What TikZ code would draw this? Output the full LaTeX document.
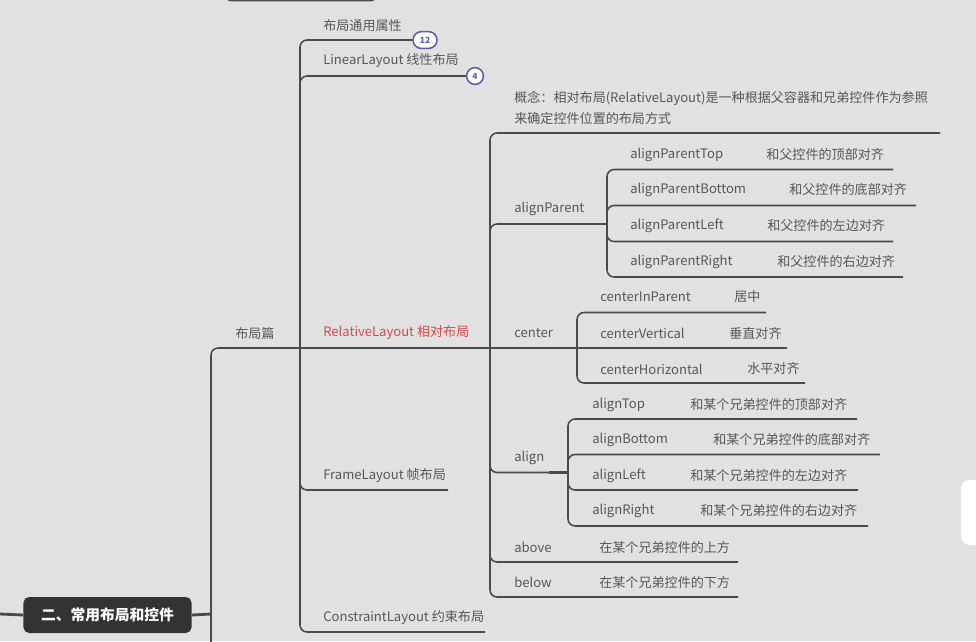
\documentclass[tikz,border=0pt]{standalone}
\usepackage{fontspec}
\setmainfont{Noto Sans CJK SC}
\usetikzlibrary{positioning}
\definecolor{bggray}{HTML}{E1E1E1}
\definecolor{linegray}{HTML}{4A4A4A}
\definecolor{txtgray}{HTML}{575757}
\definecolor{relred}{HTML}{D64A4A}
\definecolor{badgeblue}{HTML}{5B5DAE}
\definecolor{rootdark}{HTML}{333431}

\begin{document}
\begin{tikzpicture}[x=0.025cm, y=-0.025cm,
    topic/.style={anchor=west, inner sep=0pt, text=txtgray, font=\fontsize{9.3}{11}\selectfont},
    branch/.style={draw=linegray, line width=1.1pt, rounded corners=5pt},
    stub/.style={draw=linegray, line width=2pt},
    badge/.style={draw=badgeblue, fill=white, line width=1.1pt, text=badgeblue,
        font=\fontsize{6}{6}\selectfont\bfseries, inner sep=0pt,
        minimum height=0.42cm, rounded corners=0.21cm},
    rootbox/.style={fill=rootdark, text=white, rounded corners=4pt, inner sep=0pt,
        minimum width=4.2cm, minimum height=0.9cm, font=\fontsize{10.5}{12}\selectfont\bfseries}]
    \useasboundingbox[fill=bggray] (0,0) rectangle (976,641);

    % box cut off at the top
    \draw[linegray, line width=1.1pt, rounded corners=4pt] (225,-10) -- (225,0.6) -- (377,0.6) -- (377,-10);
    % tab at the right edge
    \fill[white, rounded corners=6pt] (961,480) rectangle (990,545);

    % root and trunk
    \node[rootbox] (root) at (107.5,615) {二、常用布局和控件};
    \coordinate (rootIn) at (0,614);
    \coordinate (jTrunk) at (211,614);
    \coordinate (trunkEnd) at (211,650);
    \coordinate (jL2) at (300,348);
    \draw[stub] (rootIn) -- (root.west);
    \draw[stub] (root.east) -- (jTrunk);
    \draw[branch] (trunkEnd) |- (jL2);
    \draw[stub] (282,348) -- (jL2);
    \node[topic] (lay) at (235,333) {布局篇};

    % second level
    \node[badge, minimum width=0.6cm] (b12) at (425,40) {12};
    \node[badge, minimum width=0.42cm] (b4) at (475,76) {4};
    \coordinate (jRel) at (490,348);
    \coordinate (frameE) at (448,490);
    \coordinate (consE) at (485,632);
    \draw[branch] (jL2) |- (b12.west);
    \draw[branch] (jL2) |- (b4.west);
    \draw[branch] (jL2) -- (jRel);
    \draw[stub] (471,348) -- (jRel);
    \draw[branch] (jL2) |- (frameE);
    \draw[branch] (jL2) |- (consE);
    \node[topic] (common) at (323,26) {布局通用属性};
    \node[topic] (linear) at (323,61) {LinearLayout 线性布局};
    \node[topic, text=relred] (rel) at (323,333) {RelativeLayout 相对布局};
    \node[topic] (frame) at (323,476) {FrameLayout 帧布局};
    \node[topic] (cons) at (323,618) {ConstraintLayout 约束布局};

    % RelativeLayout
    \coordinate (conceptE) at (940,133);
    \coordinate (jAP) at (607,224);
    \coordinate (jCen) at (577,348);
    \coordinate (jAli) at (568,472.5);
    \coordinate (aboveE) at (738,562);
    \coordinate (belowE) at (738,597);
    \draw[branch] (jRel) |- (conceptE);
    \draw[branch] (jRel) |- (jAP);
    \draw[branch] (jRel) -- (jCen);
    \draw[branch] (jRel) |- (jAli);
    \draw[branch] (jRel) |- (aboveE);
    \draw[branch] (jRel) |- (belowE);
    \draw[stub] (588,224) -- (jAP);
    \draw[stub] (558,348) -- (jCen);
    \draw[stub] (549,472.5) -- (jAli);
    \node[topic, align=left, font=\fontsize{9.3}{15}\selectfont] (concept) at (514,107.5)
        {概念：相对布局(RelativeLayout)是一种根据父容器和兄弟控件作为参照\\来确定控件位置的布局方式};
    \node[topic] (apar) at (514,209) {alignParent};
    \node[topic] (cen) at (514,333) {center};
    \node[topic] (ali) at (514,458) {align};
    \node[topic] (above) at (514,547) {above};
    \node[topic] (aboveD) at (599,547) {在某个兄弟控件的上方};
    \node[topic] (below) at (514,582) {below};
    \node[topic] (belowD) at (599,582) {在某个兄弟控件的下方};

    % alignParent
    \coordinate (apTopE) at (893,169.5);
    \coordinate (apBotE) at (916,205.5);
    \coordinate (apLefE) at (893,241.5);
    \coordinate (apRigE) at (903,277);
    \draw[branch] (jAP) |- (apTopE);
    \draw[branch] (jAP) |- (apBotE);
    \draw[branch] (jAP) |- (apLefE);
    \draw[branch] (jAP) |- (apRigE);
    \node[topic] (apTop) at (630,155) {alignParentTop};
    \node[topic] (apTopD) at (766,155) {和父控件的顶部对齐};
    \node[topic] (apBot) at (630,190) {alignParentBottom};
    \node[topic] (apBotD) at (789,190) {和父控件的底部对齐};
    \node[topic] (apLef) at (630,226) {alignParentLeft};
    \node[topic] (apLefD) at (767,226) {和父控件的左边对齐};
    \node[topic] (apRig) at (630,262) {alignParentRight};
    \node[topic] (apRigD) at (777,262) {和父控件的右边对齐};

    % center
    \coordinate (cInE) at (766,312.5);
    \coordinate (cVerE) at (787,348);
    \coordinate (cHorE) at (805,383);
    \draw[branch] (jCen) |- (cInE);
    \draw[branch] (jCen) -- (cVerE);
    \draw[branch] (jCen) |- (cHorE);
    \node[topic] (cIn) at (600,297) {centerInParent};
    \node[topic] (cInD) at (734,297) {居中};
    \node[topic] (cVer) at (600,333) {centerVertical};
    \node[topic] (cVerD) at (729,333) {垂直对齐};
    \node[topic] (cHor) at (600,369) {centerHorizontal};
    \node[topic] (cHorD) at (747,369) {水平对齐};

    % align
    \coordinate (aTopE) at (857,419);
    \coordinate (aBotE) at (880,454.5);
    \coordinate (aLefE) at (858,490);
    \coordinate (aRigE) at (868,526);
    \draw[branch] (jAli) |- (aTopE);
    \draw[branch] (jAli) |- (aBotE);
    \draw[branch] (jAli) |- (aLefE);
    \draw[branch] (jAli) |- (aRigE);
    \node[topic] (aTop) at (592,405) {alignTop};
    \node[topic] (aTopD) at (690,405) {和某个兄弟控件的顶部对齐};
    \node[topic] (aBot) at (592,440) {alignBottom};
    \node[topic] (aBotD) at (713,440) {和某个兄弟控件的底部对齐};
    \node[topic] (aLef) at (592,476) {alignLeft};
    \node[topic] (aLefD) at (690,476) {和某个兄弟控件的左边对齐};
    \node[topic] (aRig) at (592,511) {alignRight};
    \node[topic] (aRigD) at (700,511) {和某个兄弟控件的右边对齐};
\end{tikzpicture}
\end{document}
